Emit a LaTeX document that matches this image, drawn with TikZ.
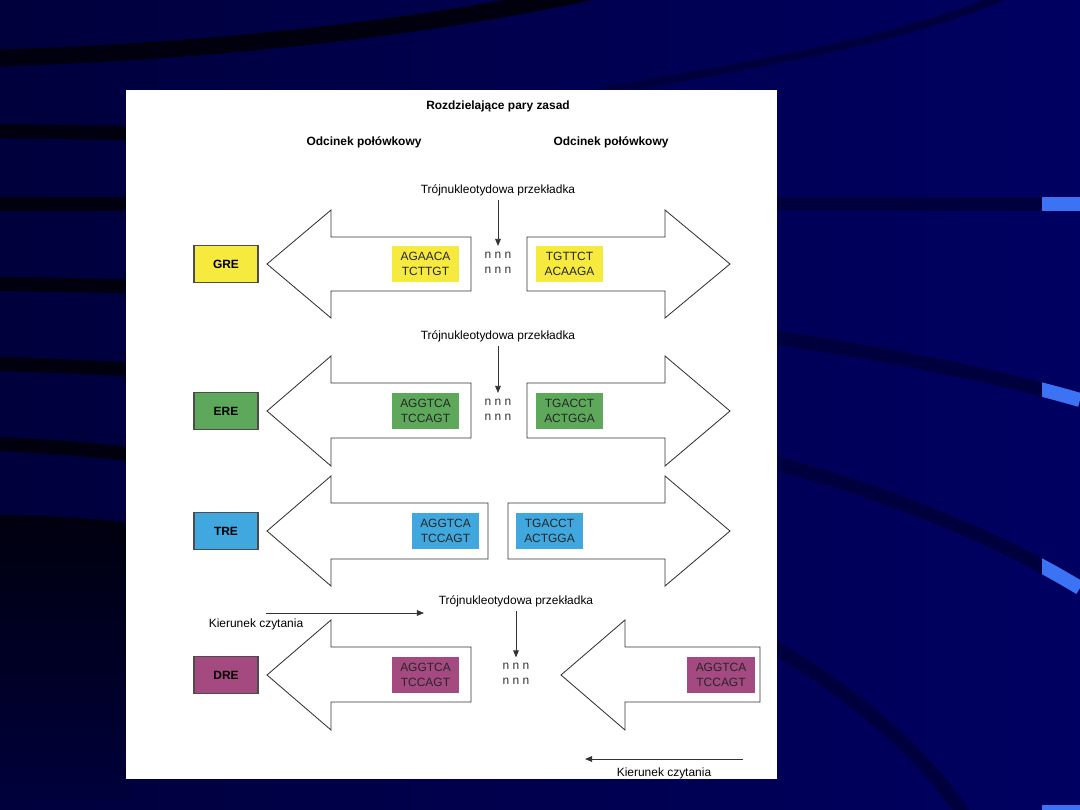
\documentclass[tikz,border=0pt]{standalone}
\usepackage{fontspec}
\setmainfont{Liberation Sans}
\usetikzlibrary{arrows.meta}

\definecolor{slideleft}{RGB}{0,0,60}
\definecolor{slideright}{RGB}{0,0,98}
\definecolor{swoosh}{RGB}{0,0,62}
\definecolor{swooshdark}{RGB}{0,0,14}
\definecolor{glint}{RGB}{60,115,245}
\definecolor{greyellow}{RGB}{246,234,62}
\definecolor{eregreen}{RGB}{94,168,92}
\definecolor{treblue}{RGB}{64,168,222}
\definecolor{dremauve}{RGB}{164,74,128}

\tikzset{
  txt/.style={inner sep=1pt, font=\fontsize{8.5}{10.6}\selectfont},
  hdr/.style={inner sep=1pt, font=\fontsize{8.5}{10.6}\selectfont\bfseries},
  elem/.style={draw=black!70, line width=0.8pt, minimum width=1.6cm, minimum height=0.93cm,
    inner sep=0pt, font=\fontsize{8.5}{10.6}\selectfont\bfseries},
  seq/.style={minimum width=1.68cm, minimum height=0.9cm, inner sep=0pt, align=center,
    text=black!85, font=\fontsize{8.5}{10.6}\selectfont},
  nnn/.style={align=center, inner sep=2pt, text=black!80, font=\fontsize{8.5}{10.6}\selectfont},
  halfsite/.style={draw=black!80, line width=0.6pt, line join=miter},
  pointer/.style={-{Triangle[length=5pt,width=4pt]}, line width=0.6pt, draw=black!80},
  band/.style={line width=10pt},
}

\begin{document}
\begin{tikzpicture}[x=0.025cm, y=-0.025cm]
  \useasboundingbox (0,0) rectangle (1080,810);

  % slide background
  \shade[left color=slideleft, right color=slideright] (0,0) rectangle (1080,810);
  \shade[top color=swooshdark, bottom color=slideleft] (0,515) .. controls (60,516) and (100,519)
    .. (130,523) -- (130,800) -- (0,800) -- cycle;
  \draw[swooshdark, line width=12pt] (0,58) .. controls (250,50) and (450,22) .. (590,-8);
  \draw[swoosh, line width=6pt] (600,92) .. controls (780,60) and (900,40) .. (1010,-6);
  \begin{scope}
    \clip (0,0) rectangle (126,810);
    \draw[swooshdark, band] (0,131) -- (130,133);
    \draw[swooshdark, band] (0,204) -- (1080,204);
    \draw[swooshdark, band] (0,284) .. controls (400,288) and (820,325) .. (1080,400);
    \draw[swooshdark, band] (0,364) .. controls (400,376) and (820,430) .. (1080,588);
    \draw[swooshdark, band] (0,444) .. controls (400,462) and (820,600) .. (965,816);
  \end{scope}
  \begin{scope}
    \clip (777,0) rectangle (1042,810);
    \draw[swoosh, band] (0,204) -- (1080,204);
    \draw[swoosh, band] (0,284) .. controls (400,288) and (820,325) .. (1080,400);
    \draw[swoosh, band] (0,364) .. controls (400,376) and (820,430) .. (1080,588);
    \draw[swoosh, band] (0,444) .. controls (400,462) and (820,600) .. (965,816);
  \end{scope}
  \begin{scope}
    \clip (1042,0) rectangle (1080,810);
    \draw[glint, band] (0,204) -- (1080,204);
    \draw[glint, band] (0,284) .. controls (400,288) and (820,325) .. (1080,400);
    \draw[glint, band] (0,364) .. controls (400,376) and (820,430) .. (1080,588);
    \fill[glint] (1042,805) rectangle (1080,810);
  \end{scope}

  % panel
  \fill[white] (126,90) rectangle (777,779);

  \node[hdr] (title) at (498,106) {Rozdzielające pary zasad};
  \node[hdr] (halfL) at (364,142) {Odcinek połówkowy};
  \node[hdr] (halfR) at (611,142) {Odcinek połówkowy};

  % GRE
  \node[txt] (sp1) at (498,190) {Trójnukleotydowa przekładka};
  \draw[halfsite] (267,264) -- (331,210) -- (331,237) -- (471,237) -- (471,291)
    -- (331,291) -- (331,318) -- cycle;
  \draw[halfsite] (730,264) -- (665,210) -- (665,237) -- (527,237) -- (527,291)
    -- (665,291) -- (665,318) -- cycle;
  \node[elem, fill=greyellow] (gre) at (226,264) {GRE};
  \node[seq, fill=greyellow] (greL) at (425.5,264) {AGAACA\\TCTTGT};
  \node[seq, fill=greyellow] (greR) at (569.5,264) {TGTTCT\\ACAAGA};
  \node[nnn] (n1) at (498,262.5) {n n n\\n n n};
  \draw[pointer, shorten <=2pt, shorten >=2pt] (sp1) -- (n1);

  % ERE
  \node[txt] (sp2) at (498,336) {Trójnukleotydowa przekładka};
  \draw[halfsite] (267,411) -- (331,356) -- (331,383) -- (471,383) -- (471,438)
    -- (331,438) -- (331,466) -- cycle;
  \draw[halfsite] (730,411) -- (665,356) -- (665,383) -- (527,383) -- (527,438)
    -- (665,438) -- (665,466) -- cycle;
  \node[elem, fill=eregreen] (ere) at (226,411) {ERE};
  \node[seq, fill=eregreen] (ereL) at (425.5,411) {AGGTCA\\TCCAGT};
  \node[seq, fill=eregreen] (ereR) at (569.5,411) {TGACCT\\ACTGGA};
  \node[nnn] (n2) at (498,409.5) {n n n\\n n n};
  \draw[pointer, shorten <=2pt, shorten >=2pt] (sp2) -- (n2);

  % TRE
  \draw[halfsite] (267,531) -- (331,476) -- (331,503) -- (488,503) -- (488,559)
    -- (331,559) -- (331,586) -- cycle;
  \draw[halfsite] (730,531) -- (665,476) -- (665,503) -- (508,503) -- (508,559)
    -- (665,559) -- (665,586) -- cycle;
  \node[elem, fill=treblue] (tre) at (226,531) {TRE};
  \node[seq, fill=treblue] (treL) at (445.5,531) {AGGTCA\\TCCAGT};
  \node[seq, fill=treblue] (treR) at (549.5,531) {TGACCT\\ACTGGA};

  % DRE
  \node[txt] (sp4) at (516,601) {Trójnukleotydowa przekładka};
  \coordinate (read1a) at (266,613);
  \coordinate (read1b) at (424,613);
  \draw[pointer] (read1a) -- (read1b);
  \node[txt] (read1) at (256,624) {Kierunek czytania};
  \draw[halfsite] (267,675) -- (331,620) -- (331,647) -- (471,647) -- (471,702)
    -- (331,702) -- (331,730) -- cycle;
  \draw[halfsite] (561,675) -- (625,620) -- (625,647) -- (760,647) -- (760,702)
    -- (625,702) -- (625,730) -- cycle;
  \node[elem, fill=dremauve] (dre) at (226,675) {DRE};
  \node[seq, fill=dremauve] (dreL) at (425.5,675) {AGGTCA\\TCCAGT};
  \node[seq, fill=dremauve] (dreR) at (721,675) {AGGTCA\\TCCAGT};
  \node[nnn] (n4) at (516,674) {n n n\\n n n};
  \draw[pointer, shorten <=2pt, shorten >=2pt] (sp4) -- (n4);
  \coordinate (read2a) at (743,759);
  \coordinate (read2b) at (585,759);
  \draw[pointer] (read2a) -- (read2b);
  \node[txt] (read2) at (664,773) {Kierunek czytania};
\end{tikzpicture}
\end{document}
